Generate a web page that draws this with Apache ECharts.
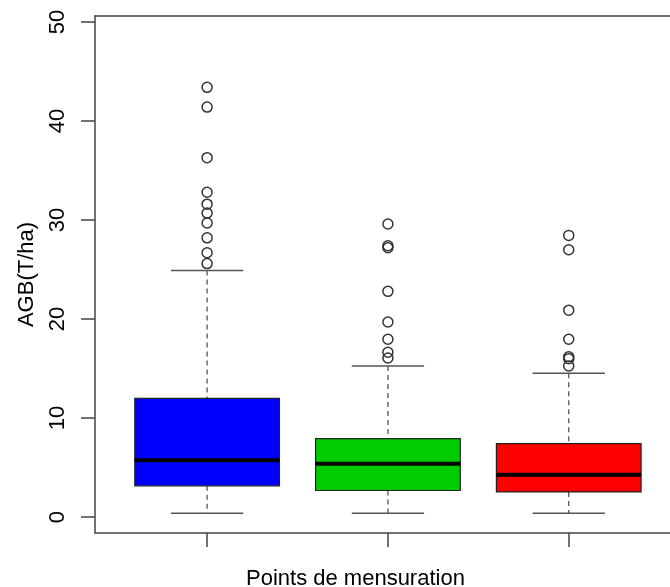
<!DOCTYPE html>
<html>
<head>
<meta charset="utf-8">
<script src="https://cdn.jsdelivr.net/npm/echarts@6/dist/echarts.min.js"></script>
<style>
  html, body { margin: 0; padding: 0; background: #fff; }
  #chart { width: 670px; height: 587px; }
</style>
</head>
<body>
<div id="chart"></div>
<script>
// boxplot stats per group: lower whisker, Q1, median, Q3, upper whisker
var groups = [1, 2, 3];
var lowWhisker = [0.4, 0.4, 0.4];
var q1 = [3.16, 2.69, 2.55];
var medians = [5.75, 5.38, 4.27];
var q3 = [12.0, 7.93, 7.43];
var highWhisker = [24.9, 15.27, 14.53];
var boxColors = ['#0000ff', '#00cc00', '#ff0000'];

// outliers per group
var outliers1 = [43.4, 41.4, 36.3, 32.8, 31.6, 30.7, 29.7, 28.2, 26.7, 25.6];
var outliers2 = [29.6, 27.4, 27.2, 22.8, 19.7, 17.96, 16.65, 16.07];
var outliers3 = [28.45, 27.0, 20.9, 17.96, 16.2, 16.0, 15.27];

var yTicks = [0, 10, 20, 30, 40, 50];

var boxData = groups.map(function (g, i) {
  return [g, lowWhisker[i], q1[i], medians[i], q3[i], highWhisker[i]];
});

var outlierData = [];
[outliers1, outliers2, outliers3].forEach(function (arr, i) {
  arr.forEach(function (v) { outlierData.push([groups[i], v]); });
});

var lineColor = '#444';

function renderBox(params, api) {
  var x = api.value(0);
  var lo = api.value(1), b1 = api.value(2), med = api.value(3), b3 = api.value(4), hi = api.value(5);
  var half = 0.4, cap = 0.2;
  var tl = api.coord([x - half, b3]);
  var br = api.coord([x + half, b1]);
  var c = api.coord([x, 0])[0];
  var pLo = api.coord([x, lo])[1], pHi = api.coord([x, hi])[1];
  var capL = api.coord([x - cap, 0])[0], capR = api.coord([x + cap, 0])[0];
  var pMed = api.coord([x, med])[1];
  var dash = { stroke: '#555', lineWidth: 1.3, lineDash: [5, 4] };
  var solid = { stroke: '#555', lineWidth: 1.5 };
  return {
    type: 'group',
    children: [
      { type: 'line', shape: { x1: c, y1: pHi, x2: c, y2: tl[1] }, style: dash },
      { type: 'line', shape: { x1: c, y1: br[1], x2: c, y2: pLo }, style: dash },
      { type: 'line', shape: { x1: capL, y1: pHi, x2: capR, y2: pHi }, style: solid },
      { type: 'line', shape: { x1: capL, y1: pLo, x2: capR, y2: pLo }, style: solid },
      { type: 'rect', shape: { x: tl[0], y: tl[1], width: br[0] - tl[0], height: br[1] - tl[1] },
        style: { fill: boxColors[params.dataIndex], stroke: '#222', lineWidth: 1.2 } },
      { type: 'line', shape: { x1: tl[0], y1: pMed, x2: br[0], y2: pMed },
        style: { stroke: '#000', lineWidth: 4 } }
    ]
  };
}

var myChart = echarts.init(document.getElementById('chart'));

var option = {
  animation: false,
  textStyle: { fontFamily: 'Liberation Sans, Arial, sans-serif' },
  title: {
    text: 'Points de mensuration',
    left: 241,
    top: 563,
    textStyle: { fontFamily: 'Liberation Sans, Arial, sans-serif', fontSize: 22, fontWeight: 'normal', color: '#000' }
  },
  grid: { left: 95, right: 0, top: 16, bottom: 54 },
  xAxis: [
    {
      type: 'value',
      min: 0.38,
      max: 3.56,
      position: 'bottom',
      splitLine: { show: false },
      axisLine: { onZero: false, lineStyle: { color: lineColor, width: 1.5 } },
      axisTick: { show: true, length: 14, customValues: groups, lineStyle: { color: lineColor, width: 1.5 } },
      axisLabel: { show: false }
    },
    {
      type: 'value',
      min: 0.38,
      max: 3.56,
      position: 'top',
      splitLine: { show: false },
      axisLine: { onZero: false, lineStyle: { color: lineColor, width: 1.5 } },
      axisTick: { show: false },
      axisLabel: { show: false }
    }
  ],
  yAxis: {
    type: 'value',
    min: -1.6,
    max: 50.6,
    name: 'AGB(T/ha)',
    nameLocation: 'middle',
    nameGap: 57,
    nameTextStyle: { fontSize: 22, color: '#000' },
    splitLine: { show: false },
    axisLine: { show: true, onZero: false, lineStyle: { color: lineColor, width: 1.5 } },
    axisTick: { show: true, length: 14, customValues: yTicks, lineStyle: { color: lineColor, width: 1.5 } },
    axisLabel: { customValues: yTicks, rotate: 90, margin: 26, fontSize: 22, color: '#000' }
  },
  series: [
    {
      type: 'custom',
      renderItem: renderBox,
      data: boxData,
      encode: { x: 0, y: [1, 2, 3, 4, 5] },
      z: 2
    },
    {
      type: 'scatter',
      data: outlierData,
      symbol: 'circle',
      symbolSize: 10,
      itemStyle: { color: 'rgba(255,255,255,0)', borderColor: '#333', borderWidth: 1.5, opacity: 1 },
      z: 3
    }
  ]
};

myChart.setOption(option);
</script>
</body>
</html>
